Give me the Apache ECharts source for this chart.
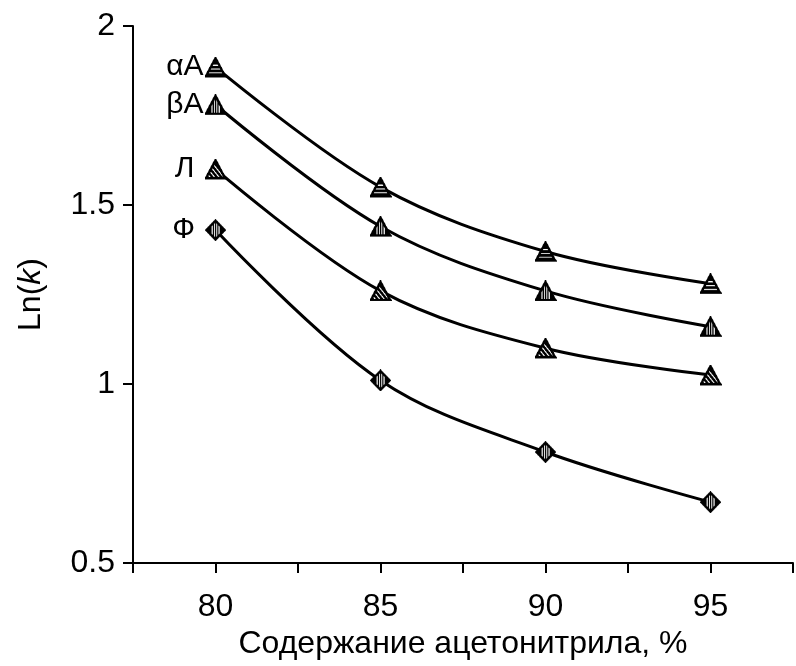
<!DOCTYPE html>
<html>
<head>
<meta charset="utf-8">
<script src="https://cdn.jsdelivr.net/npm/echarts@6/dist/echarts.min.js"></script>
<style>
  html, body { margin: 0; padding: 0; background: #fff; }
  #chart { width: 796px; height: 666px; }
</style>
</head>
<body>
<div id="chart"></div>
<script>
// содержание ацетонитрила, %
var acetonitrile = [80, 85, 90, 95]
// Ln(k) for each compound
var alphaA = [1.885, 1.55, 1.37, 1.28]
var betaA = [1.78, 1.44, 1.26, 1.16]
var lA = [1.60, 1.26, 1.10, 1.025]
var phi = [1.43, 1.01, 0.81, 0.67]
var seriesNames = ['αA', 'βA', 'Л', 'Ф']
var yTicks = [0.5, 1, 1.5, 2]

// hatched marker drawn once on a canvas, used as image symbol
function marker (shape, kind) {
  var k = 3
  var w = 22 * k
  var h = 21 * k
  var c = document.createElement('canvas')
  c.width = w
  c.height = h
  var g = c.getContext('2d')
  var m = 1.5 * k
  function outline () {
    g.beginPath()
    if (shape === 'triangle') {
      g.moveTo(w / 2, m)
      g.lineTo(w - m, h - m)
      g.lineTo(m, h - m)
    } else {
      g.moveTo(w / 2, m)
      g.lineTo(w - m, h / 2)
      g.lineTo(w / 2, h - m)
      g.lineTo(m, h / 2)
    }
    g.closePath()
  }
  outline()
  g.fillStyle = '#000'
  g.fill()
  g.save()
  g.clip()
  g.strokeStyle = '#fff'
  g.lineWidth = 1.1 * k
  g.beginPath()
  var i
  if (kind === 'h') {
    for (i = 8.5; i < 19; i += 3.8) { g.moveTo(0, i * k); g.lineTo(w, i * k) }
  } else if (kind === 'v') {
    for (i = 7.5; i < 16; i += 2.4) { g.moveTo(i * k, 0); g.lineTo(i * k, h) }
  } else {
    for (i = -6; i < 22; i += 4.5) { g.moveTo(i * k, 4 * k); g.lineTo((i + 12) * k, 19 * k) }
  }
  g.stroke()
  g.restore()
  outline()
  g.strokeStyle = '#000'
  g.lineWidth = 2.4 * k
  g.lineJoin = 'miter'
  g.stroke()
  return 'image://' + c.toDataURL()
}

var font = 'Liberation Sans, Arial, sans-serif'

function makeSeries (name, values, symbol, size, labelGap) {
  return {
    name: name,
    type: 'line',
    smooth: 0.35,
    data: acetonitrile.map(function (x, i) { return [x, values[i]] }),
    symbol: symbol,
    symbolSize: size,
    showAllSymbol: true,
    lineStyle: { color: '#000', width: 3 },
    label: {
      show: true,
      position: 'left',
      distance: labelGap,
      color: '#000',
      fontSize: 30,
      fontFamily: font,
      formatter: function (p) { return p.dataIndex === 0 ? p.seriesName : '' }
    },
    emphasis: { disabled: true },
    animation: false
  }
}

var chart = echarts.init(document.getElementById('chart'))
var option = {
  backgroundColor: '#fff',
  grid: { left: 133, right: -4, top: 26, bottom: 103 },
  xAxis: {
    type: 'value',
    min: 77.5,
    max: 97.5,
    interval: 2.5,
    splitLine: { show: false },
    axisLine: { lineStyle: { color: '#000', width: 2 } },
    axisTick: { length: 10, lineStyle: { color: '#000', width: 2 } },
    axisLabel: {
      color: '#000',
      fontSize: 32,
      fontFamily: font,
      margin: 28,
      formatter: function (v) { return v % 5 === 0 ? String(v) : '' }
    },
    name: 'Содержание ацетонитрила, %',
    nameLocation: 'middle',
    nameGap: 62,
    nameTextStyle: { color: '#000', fontSize: 32, fontFamily: font }
  },
  yAxis: {
    type: 'value',
    min: yTicks[0],
    max: yTicks[yTicks.length - 1],
    interval: 0.5,
    splitLine: { show: false },
    axisLine: { lineStyle: { color: '#000', width: 2 } },
    axisTick: { length: 10, lineStyle: { color: '#000', width: 2 } },
    axisLabel: {
      color: '#000',
      fontSize: 32,
      fontFamily: font,
      margin: 18,
      formatter: function (v) { return String(v) }
    },
    name: 'Ln({k|k})',
    nameLocation: 'middle',
    nameGap: 86,
    nameTextStyle: {
      color: '#000',
      fontSize: 32,
      fontFamily: font,
      rich: { k: { fontSize: 32, fontStyle: 'italic', fontFamily: font, color: '#000' } }
    }
  },
  series: [
    makeSeries(seriesNames[0], alphaA, marker('triangle', 'h'), [22, 21], 1),
    makeSeries(seriesNames[1], betaA, marker('triangle', 'v'), [22, 21], 1),
    makeSeries(seriesNames[2], lA, marker('triangle', 'd'), [22, 21], 10),
    makeSeries(seriesNames[3], phi, marker('diamond', 'v'), [21, 22], 10)
  ]
}
chart.setOption(option)
</script>
</body>
</html>
